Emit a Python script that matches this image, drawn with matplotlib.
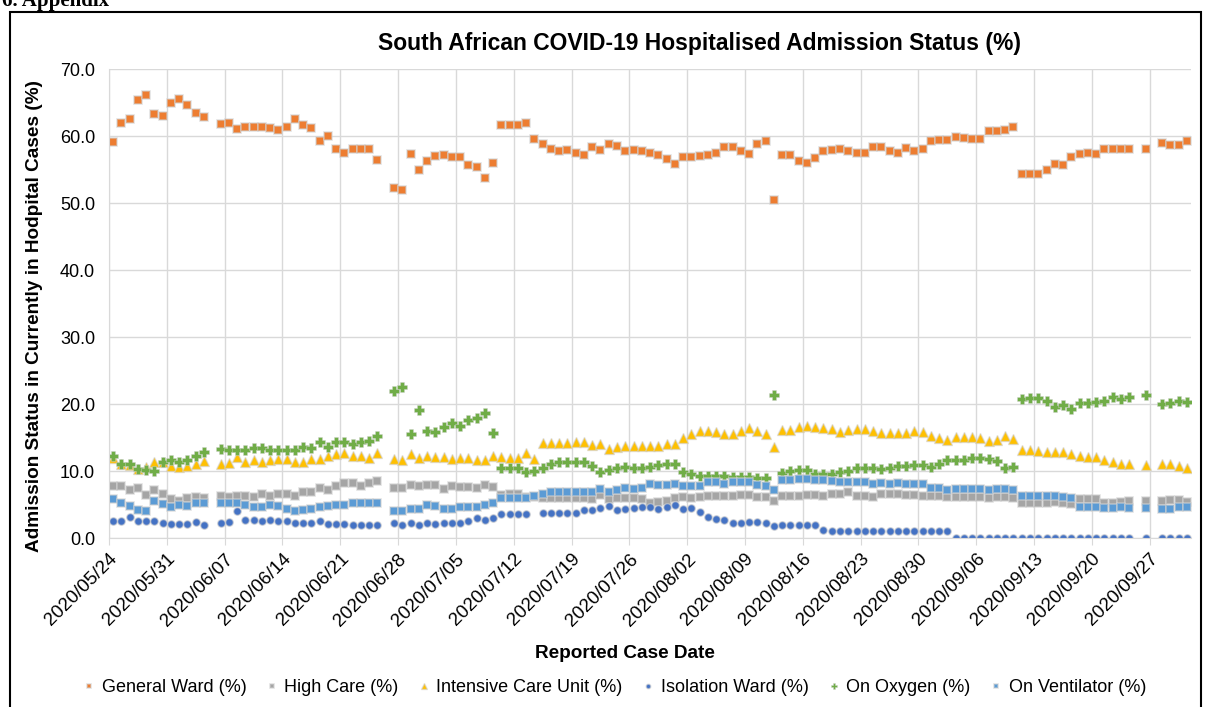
import matplotlib.pyplot as plt
import matplotlib.dates as mdates
import numpy as np
import pandas as pd
from matplotlib.patches import Rectangle

nan = np.nan

# one value per reported day, 2020/05/24 .. 2020/10/01 (nan = no report)
dates = pd.date_range('2020-05-24', periods=131, freq='D')
tick_dates = pd.date_range('2020-05-24', '2020-09-27', freq='7D')

general_ward = [
    59.1, 61.9, 62.6, 65.4, 66.1, 63.3, 63.0, 65.0, 65.5, 64.6,
    63.5, 62.8, nan, 61.8, 61.9, 61.1, 61.3, 61.3, 61.3, 61.2,
    60.9, 61.4, 62.6, 61.6, 61.2, 59.3, 60.0, 58.1, 57.4, 58.1,
    58.1, 58.1, 56.4, nan, 52.2, 52.0, 57.3, 54.9, 56.2, 57.0,
    57.1, 56.8, 56.8, 55.6, 55.3, 53.8, 55.9, 61.6, 61.6, 61.6,
    62.0, 59.5, 58.8, 58.1, 57.8, 57.9, 57.5, 57.2, 58.3, 57.9,
    58.8, 58.5, 57.8, 57.9, 57.8, 57.4, 57.2, 56.6, 55.8, 56.9,
    56.8, 57.0, 57.1, 57.4, 58.4, 58.4, 57.7, 57.3, 58.8, 59.3,
    50.5, 57.2, 57.2, 56.2, 55.9, 56.7, 57.7, 57.9, 58.1, 57.8,
    57.5, 57.5, 58.4, 58.3, 57.8, 57.5, 58.2, 57.8, 58.1, 59.3,
    59.4, 59.4, 59.9, 59.7, 59.6, 59.5, 60.8, 60.8, 60.9, 61.3,
    54.4, 54.4, 54.4, 54.9, 55.8, 55.7, 56.8, 57.3, 57.4, 57.3,
    58.1, 58.1, 58.1, 58.0, nan, 58.0, nan, 59.0, 58.6, 58.6, 59.3,
]

high_care = [
    7.7, 7.7, 7.1, 7.5, 6.4, 7.1, 6.6, 5.8, 5.6, 5.9,
    6.1, 5.9, nan, 6.2, 6.1, 6.3, 6.3, 6.1, 6.5, 6.2,
    6.5, 6.5, 6.3, 6.9, 6.9, 7.4, 7.2, 7.8, 8.2, 8.2,
    7.8, 8.2, 8.5, nan, 7.5, 7.4, 7.9, 7.8, 7.9, 7.9,
    7.3, 7.7, 7.6, 7.6, 7.4, 7.9, 7.6, 6.4, 6.5, 6.5,
    6.1, 6.1, 6.0, 5.9, 5.9, 6.0, 6.0, 6.0, 5.8, 6.4,
    5.8, 6.0, 5.9, 6.0, 5.8, 5.3, 5.4, 5.6, 5.9, 6.1,
    6.0, 6.1, 6.3, 6.2, 6.2, 6.3, 6.4, 6.4, 6.1, 6.1,
    5.5, 6.2, 6.3, 6.3, 6.4, 6.4, 6.3, 6.5, 6.5, 6.8,
    6.3, 6.2, 6.1, 6.6, 6.6, 6.6, 6.4, 6.4, 6.3, 6.2,
    6.2, 6.1, 6.1, 6.1, 6.1, 6.1, 5.9, 6.1, 6.1, 6.0,
    5.3, 5.2, 5.2, 5.2, 5.4, 5.3, 5.1, 5.8, 5.8, 5.8,
    5.3, 5.3, 5.4, 5.6, nan, 5.5, nan, 5.5, 5.7, 5.7, 5.4,
]

icu = [
    11.9, 11.0, 10.9, 10.3, 10.6, 11.4, 11.4, 10.7, 10.6, 10.8,
    11.0, 11.5, nan, 11.1, 11.2, 12.1, 11.4, 11.7, 11.4, 11.7,
    11.8, 11.8, 11.4, 11.3, 11.8, 11.8, 12.2, 12.5, 12.7, 12.3,
    12.3, 12.0, 12.7, nan, 11.8, 11.7, 12.6, 11.9, 12.3, 12.1,
    12.1, 11.8, 11.9, 11.9, 11.7, 11.6, 12.3, 12.1, 12.0, 12.0,
    12.7, 11.8, 14.2, 14.2, 14.2, 14.2, 14.4, 14.3, 13.9, 14.1,
    13.3, 13.6, 13.7, 13.7, 13.8, 13.8, 13.8, 14.0, 14.0, 14.9,
    15.6, 15.9, 15.9, 15.8, 15.6, 15.6, 16.0, 16.4, 15.9, 15.5,
    13.6, 16.1, 16.1, 16.6, 16.7, 16.6, 16.4, 16.2, 15.8, 16.1,
    16.2, 16.2, 16.0, 15.7, 15.7, 15.7, 15.7, 15.9, 15.8, 15.3,
    14.9, 14.7, 15.1, 15.1, 15.1, 14.9, 14.5, 14.6, 15.2, 14.8,
    13.1, 13.1, 13.0, 12.9, 12.8, 12.8, 12.6, 12.2, 12.1, 12.1,
    11.6, 11.3, 11.1, 11.1, nan, 10.9, nan, 11.1, 11.0, 10.7, 10.5,
]

isolation_ward = [
    2.5, 2.6, 3.2, 2.5, 2.5, 2.6, 2.2, 2.1, 2.1, 2.1,
    2.4, 2.0, nan, 2.3, 2.4, 4.0, 2.7, 2.7, 2.6, 2.7,
    2.5, 2.5, 2.2, 2.2, 2.2, 2.5, 2.1, 2.1, 2.1, 2.0,
    2.0, 1.9, 2.0, nan, 2.2, 2.0, 2.3, 1.9, 2.3, 2.1,
    2.2, 2.2, 2.2, 2.6, 3.0, 2.7, 3.0, 3.6, 3.6, 3.6,
    3.6, nan, 3.8, 3.8, 3.8, 3.8, 3.8, 4.2, 4.2, 4.5,
    4.8, 4.2, 4.3, 4.5, 4.6, 4.6, 4.4, 4.7, 5.0, 4.3,
    4.5, 3.9, 3.2, 2.9, 2.7, 2.3, 2.2, 2.4, 2.4, 2.2,
    1.8, 1.9, 1.9, 2.0, 2.0, 2.0, 1.2, 1.1, 1.1, 1.0,
    1.0, 1.1, 1.0, 1.1, 1.0, 1.0, 1.0, 1.1, 1.0, 1.0,
    1.0, 1.0, 0.0, 0.0, 0.0, 0.0, 0.0, 0.0, 0.0, 0.0,
    0.0, 0.0, 0.0, 0.0, 0.0, 0.0, 0.0, 0.0, 0.0, 0.0,
    0.0, 0.0, 0.0, 0.0, nan, 0.0, nan, 0.0, 0.0, 0.0, 0.0,
]

on_oxygen = [
    12.2, 11.1, 11.0, 10.3, 10.2, 10.0, 11.3, 11.6, 11.3, 11.7,
    12.2, 12.9, nan, 13.3, 13.2, 13.1, 13.1, 13.5, 13.4, 13.1,
    13.2, 13.2, 13.2, 13.6, 13.5, 14.3, 13.6, 14.4, 14.3, 14.1,
    14.3, 14.5, 15.3, nan, 21.9, 22.5, 15.5, 19.1, 16.0, 15.8,
    16.5, 17.2, 16.7, 17.6, 17.9, 18.7, 15.7, 10.4, 10.5, 10.5,
    9.9, 10.0, 10.5, 11.0, 11.3, 11.3, 11.3, 11.4, 10.8, 9.9,
    10.2, 10.4, 10.6, 10.5, 10.5, 10.6, 10.9, 11.0, 11.1, 9.8,
    9.6, 9.3, 9.3, 9.3, 9.2, 9.1, 9.1, 9.1, 8.9, 8.9,
    21.4, 9.7, 10.0, 10.1, 10.1, 9.6, 9.6, 9.6, 9.8, 10.0,
    10.5, 10.5, 10.4, 10.3, 10.5, 10.8, 10.7, 10.9, 10.9, 10.6,
    11.0, 11.6, 11.6, 11.7, 11.9, 12.0, 11.8, 11.5, 10.4, 10.6,
    20.7, 20.9, 20.9, 20.5, 19.5, 19.8, 19.3, 20.1, 20.2, 20.3,
    20.5, 21.0, 20.7, 21.0, nan, 21.3, nan, 20.0, 20.2, 20.5, 20.3,
]

on_ventilator = [
    5.8, 5.3, 4.8, 4.2, 4.1, 5.5, 5.1, 4.7, 4.9, 4.8,
    5.2, 5.2, nan, 5.3, 5.3, 5.3, 4.9, 4.6, 4.7, 4.9,
    4.8, 4.3, 4.1, 4.2, 4.4, 4.7, 4.8, 4.9, 5.0, 5.2,
    5.3, 5.2, 5.3, nan, 4.1, 4.0, 4.4, 4.3, 4.9, 4.8,
    4.4, 4.4, 4.6, 4.7, 4.6, 4.9, 5.3, 6.0, 6.0, 6.0,
    5.9, 6.2, 6.6, 6.8, 6.9, 6.8, 6.9, 6.8, 6.8, 7.3,
    6.8, 7.2, 7.5, 7.3, 7.4, 8.0, 7.9, 7.9, 8.0, 7.8,
    7.8, 7.7, 8.3, 8.3, 8.1, 8.4, 8.4, 8.4, 7.9, 7.8,
    7.2, 8.7, 8.6, 8.8, 8.8, 8.7, 8.7, 8.5, 8.4, 8.3,
    8.4, 8.4, 8.0, 8.2, 8.1, 8.2, 8.0, 8.0, 8.0, 7.4,
    7.4, 7.1, 7.3, 7.3, 7.3, 7.3, 7.1, 7.3, 7.3, 7.2,
    6.3, 6.2, 6.2, 6.2, 6.3, 6.1, 6.0, 4.7, 4.7, 4.7,
    4.5, 4.5, 4.6, 4.5, nan, 4.5, nan, 4.4, 4.4, 4.6, 4.6,
]

# label, values, marker, colour, marker size, halo width
series = [
    ('General Ward (%)', general_ward, 's', '#ED7D31', 5.5, 1.2),
    ('High Care (%)', high_care, 's', '#A5A5A5', 5.5, 1.2),
    ('Intensive Care Unit (%)', icu, '^', '#FFC000', 6.5, 1.0),
    ('Isolation Ward (%)', isolation_ward, 'o', '#4472C4', 5.5, 1.0),
    ('On Oxygen (%)', on_oxygen, 'P', '#70AD47', 7, 0.5),
    ('On Ventilator (%)', on_ventilator, 's', '#5B9BD5', 5.5, 1.2),
]

plt.rcParams['font.family'] = ['Liberation Sans', 'DejaVu Sans']

fig = plt.figure(figsize=(12.06, 7.07), dpi=100)
ax = fig.add_axes([0.0904, 0.239, 0.8972, 0.6634])

x = dates + pd.Timedelta(hours=12)
for label, vals, marker, color, ms, mew in series:
    ax.plot(x, vals, linestyle='none', marker=marker, color=color, ms=ms,
            mec=(0.82, 0.82, 0.82, 0.6), mew=mew, label=label)

ax.set_ylim(0, 70)
ax.set_yticks(np.arange(0, 71, 10))
ax.yaxis.set_major_formatter(plt.FormatStrFormatter('%.1f'))
ax.set_xlim(pd.Timestamp('2020-05-24'), pd.Timestamp('2020-10-02'))
ax.set_xticks(tick_dates)
ax.xaxis.set_major_formatter(mdates.DateFormatter('%Y/%m/%d'))
plt.setp(ax.get_xticklabels(), rotation=45, ha='right', rotation_mode='anchor')

ax.grid(True, color='#D9D9D9', lw=1)
ax.set_axisbelow(True)
for side in ['top', 'right']:
    ax.spines[side].set_visible(False)
for side in ['left', 'bottom']:
    ax.spines[side].set_color('#D9D9D9')
ax.tick_params(axis='x', length=5, color='#D9D9D9', pad=4, labelsize=13.5)
ax.tick_params(axis='y', length=0, pad=10, labelsize=13)

fig.text(0.58, 0.939, 'South African COVID-19 Hospitalised Admission Status (%)',
         ha='center', va='center', fontsize=16.5, fontweight='bold')
fig.text(0.518, 0.075, 'Reported Case Date', ha='center', va='center',
         fontsize=13.7, fontweight='bold')
fig.text(0.029, 0.553, 'Admission Status in Currently in Hodpital Cases (%)',
         ha='center', va='center', rotation=90, fontsize=13.7, fontweight='bold')

fig.legend(loc='center', bbox_to_anchor=(0.509, 0.027), ncol=6, frameon=False,
           fontsize=13, markerscale=0.6, handlelength=0.8, handletextpad=0.3,
           columnspacing=1.0)

# outer frame and the cut-off section heading above it
fig.add_artist(Rectangle((0.0083, -0.05), 0.9875, 1.033, transform=fig.transFigure,
                         fill=False, edgecolor='black', lw=1.5))
fig.text(0.002, 0.9915, '6. Appendix', ha='left', va='baseline', fontsize=15,
         fontweight='bold', family='Liberation Serif')

fig.savefig('out.png', dpi=100)
